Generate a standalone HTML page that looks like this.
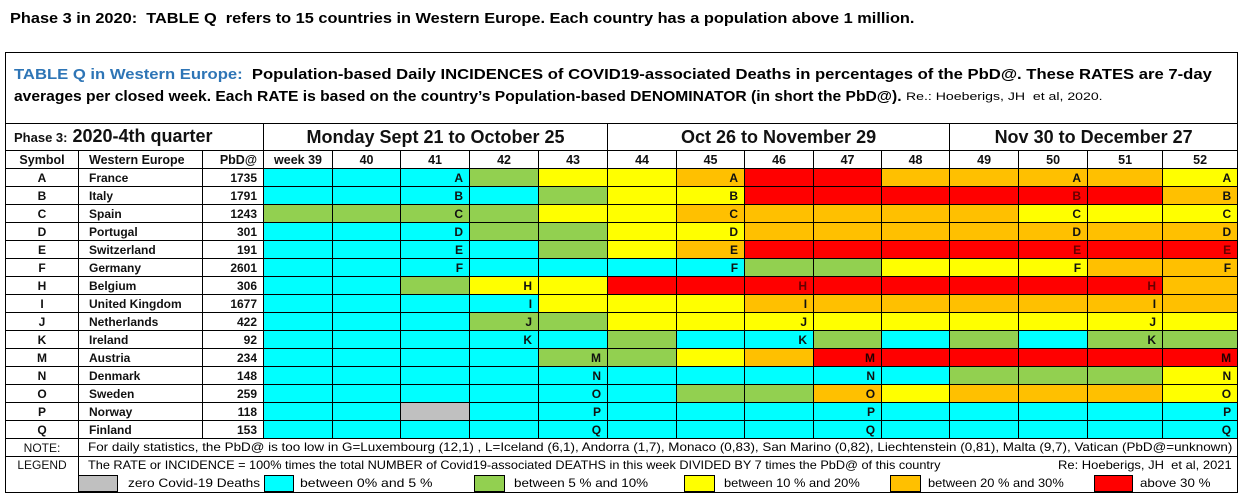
<!DOCTYPE html>
<html><head><meta charset="utf-8">
<style>
*{margin:0;padding:0;box-sizing:border-box}
body{width:1246px;height:499px;background:#fff;position:relative;overflow:hidden;font-family:"Liberation Sans",Arial,sans-serif;color:#000}
.abs{position:absolute;white-space:nowrap}
.fit{position:absolute;white-space:nowrap;overflow:visible}
.fit>span{display:inline-block;transform-origin:0 50%;white-space:nowrap}
#box{position:absolute;left:5px;top:52px;width:1233px;height:72px;border:1px solid #000;border-bottom:none}
table{position:absolute;left:5px;top:123px;border-collapse:collapse;table-layout:fixed;width:1233px}
td{border:1px solid #000;height:18px;font-size:12px;font-weight:bold;padding:0;line-height:16px;overflow:hidden;white-space:nowrap;text-align:right;padding-right:6px;color:#111}
tr.hd td{text-align:center;padding:0;font-size:12.5px}
tr.ph td{height:27px;font-size:18px;text-align:center;padding:0}
td.sym{text-align:center;padding:0}
td.cty{text-align:left;padding-left:10px}
td.pb{text-align:right;padding-right:6px}
.c{background:#00ffff}.g{background:#92d050}.y{background:#ffff00}.o{background:#ffc000}.r{background:#ff0000;color:#600}.s{background:#c0c0c0}
.sw{position:absolute;top:475px;height:17px;border:1px solid #000}
.lt{position:absolute;top:476px;font-size:12px;white-space:nowrap}
</style></head><body>
<div class="fit" style="left:10px;top:10px;width:905px;font-size:15px;font-weight:bold"><span>Phase 3 in 2020:&nbsp; TABLE Q&nbsp; refers to 15 countries in Western Europe. Each country has a population above 1 million.</span></div>
<div id="box"></div>
<div class="fit" style="left:14px;top:66px;width:1198px;font-size:15px;font-weight:bold"><span><span style="color:#2e75b6">TABLE Q in Western Europe:</span>&nbsp; Population-based Daily INCIDENCES of COVID19-associated Deaths in percentages of the PbD@. These RATES are 7-day</span></div>
<div class="fit" style="left:14px;top:88px;width:888px;font-size:15px;font-weight:bold"><span>averages per closed week. Each RATE is based on the country’s Population-based DENOMINATOR (in short the PbD@).</span></div>
<div class="fit" style="left:906px;top:91px;width:196px;font-size:11px"><span>Re.: Hoeberigs, JH&nbsp; et al, 2020.</span></div>
<table>
<colgroup><col style="width:73px"><col style="width:124px"><col style="width:61px"><col style="width:69px"><col style="width:68px"><col style="width:69px"><col style="width:69px"><col style="width:69px"><col style="width:69px"><col style="width:68px"><col style="width:69px"><col style="width:68px"><col style="width:68px"><col style="width:69px"><col style="width:69px"><col style="width:75px"><col style="width:75px"></colgroup>
<tr class="ph"><td colspan="3" style="text-align:left;padding-left:8px"><span style="font-size:13px">Phase 3:</span> 2020-4th quarter</td><td colspan="5">Monday Sept 21 to October 25</td><td colspan="5">Oct 26 to November 29</td><td colspan="4">Nov 30 to December 27</td></tr>
<tr class="hd"><td>Symbol</td><td style="text-align:left;padding-left:10px">Western Europe</td><td style="text-align:right;padding-right:6px">PbD@</td><td>week 39</td><td>40</td><td>41</td><td>42</td><td>43</td><td>44</td><td>45</td><td>46</td><td>47</td><td>48</td><td>49</td><td>50</td><td>51</td><td>52</td></tr>
<tr><td class="sym">A</td><td class="cty">France</td><td class="pb">1735</td><td class="c"></td><td class="c"></td><td class="c">A</td><td class="g"></td><td class="y"></td><td class="y"></td><td class="o">A</td><td class="r"></td><td class="r"></td><td class="o"></td><td class="o"></td><td class="o">A</td><td class="o"></td><td class="y">A</td></tr>
<tr><td class="sym">B</td><td class="cty">Italy</td><td class="pb">1791</td><td class="c"></td><td class="c"></td><td class="c">B</td><td class="c"></td><td class="g"></td><td class="y"></td><td class="y">B</td><td class="r"></td><td class="r"></td><td class="r"></td><td class="r"></td><td class="r">B</td><td class="r"></td><td class="o">B</td></tr>
<tr><td class="sym">C</td><td class="cty">Spain</td><td class="pb">1243</td><td class="g"></td><td class="g"></td><td class="g">C</td><td class="g"></td><td class="y"></td><td class="y"></td><td class="o">C</td><td class="o"></td><td class="o"></td><td class="o"></td><td class="o"></td><td class="y">C</td><td class="y"></td><td class="y">C</td></tr>
<tr><td class="sym">D</td><td class="cty">Portugal</td><td class="pb">301</td><td class="c"></td><td class="c"></td><td class="c">D</td><td class="g"></td><td class="g"></td><td class="y"></td><td class="y">D</td><td class="o"></td><td class="o"></td><td class="o"></td><td class="o"></td><td class="o">D</td><td class="o"></td><td class="o">D</td></tr>
<tr><td class="sym">E</td><td class="cty">Switzerland</td><td class="pb">191</td><td class="c"></td><td class="c"></td><td class="c">E</td><td class="c"></td><td class="g"></td><td class="y"></td><td class="o">E</td><td class="r"></td><td class="r"></td><td class="r"></td><td class="r"></td><td class="r">E</td><td class="r"></td><td class="r">E</td></tr>
<tr><td class="sym">F</td><td class="cty">Germany</td><td class="pb">2601</td><td class="c"></td><td class="c"></td><td class="c">F</td><td class="c"></td><td class="c"></td><td class="c"></td><td class="c">F</td><td class="g"></td><td class="g"></td><td class="y"></td><td class="y"></td><td class="y">F</td><td class="o"></td><td class="o">F</td></tr>
<tr><td class="sym">H</td><td class="cty">Belgium</td><td class="pb">306</td><td class="c"></td><td class="c"></td><td class="g"></td><td class="y">H</td><td class="y"></td><td class="r"></td><td class="r"></td><td class="r">H</td><td class="r"></td><td class="r"></td><td class="r"></td><td class="r"></td><td class="r">H</td><td class="o"></td></tr>
<tr><td class="sym">I</td><td class="cty">United Kingdom</td><td class="pb">1677</td><td class="c"></td><td class="c"></td><td class="c"></td><td class="c">I</td><td class="y"></td><td class="y"></td><td class="y"></td><td class="o">I</td><td class="o"></td><td class="o"></td><td class="o"></td><td class="o"></td><td class="o">I</td><td class="o"></td></tr>
<tr><td class="sym">J</td><td class="cty">Netherlands</td><td class="pb">422</td><td class="c"></td><td class="c"></td><td class="c"></td><td class="g">J</td><td class="g"></td><td class="y"></td><td class="y"></td><td class="y">J</td><td class="y"></td><td class="y"></td><td class="y"></td><td class="y"></td><td class="y">J</td><td class="y"></td></tr>
<tr><td class="sym">K</td><td class="cty">Ireland</td><td class="pb">92</td><td class="c"></td><td class="c"></td><td class="c"></td><td class="c">K</td><td class="c"></td><td class="g"></td><td class="c"></td><td class="c">K</td><td class="g"></td><td class="c"></td><td class="g"></td><td class="c"></td><td class="g">K</td><td class="g"></td></tr>
<tr><td class="sym">M</td><td class="cty">Austria</td><td class="pb">234</td><td class="c"></td><td class="c"></td><td class="c"></td><td class="c"></td><td class="g">M</td><td class="g"></td><td class="y"></td><td class="o"></td><td class="r" style="color:#200">M</td><td class="r"></td><td class="r"></td><td class="r"></td><td class="r"></td><td class="r" style="color:#200">M</td></tr>
<tr><td class="sym">N</td><td class="cty">Denmark</td><td class="pb">148</td><td class="c"></td><td class="c"></td><td class="c"></td><td class="c"></td><td class="c">N</td><td class="c"></td><td class="c"></td><td class="c"></td><td class="c">N</td><td class="c"></td><td class="g"></td><td class="g"></td><td class="g"></td><td class="y">N</td></tr>
<tr><td class="sym">O</td><td class="cty">Sweden</td><td class="pb">259</td><td class="c"></td><td class="c"></td><td class="c"></td><td class="c"></td><td class="c">O</td><td class="c"></td><td class="g"></td><td class="g"></td><td class="o">O</td><td class="y"></td><td class="o"></td><td class="o"></td><td class="o"></td><td class="y">O</td></tr>
<tr><td class="sym">P</td><td class="cty">Norway</td><td class="pb">118</td><td class="c"></td><td class="c"></td><td class="s"></td><td class="c"></td><td class="c">P</td><td class="c"></td><td class="c"></td><td class="c"></td><td class="c">P</td><td class="c"></td><td class="c"></td><td class="c"></td><td class="c"></td><td class="c">P</td></tr>
<tr><td class="sym">Q</td><td class="cty">Finland</td><td class="pb">153</td><td class="c"></td><td class="c"></td><td class="c"></td><td class="c"></td><td class="c">Q</td><td class="c"></td><td class="c"></td><td class="c"></td><td class="c">Q</td><td class="c"></td><td class="c"></td><td class="c"></td><td class="c"></td><td class="c">Q</td></tr>
<tr><td class="sym" style="font-weight:normal">NOTE:</td><td colspan="16" style="text-align:left"></td></tr>
<tr><td class="sym" rowspan="2" style="font-weight:normal;vertical-align:top">LEGEND</td><td colspan="16" style="border-bottom:none"></td></tr>
<tr><td colspan="16" style="border-top:none"></td></tr>
</table>
<div class="fit" style="left:88px;top:440px;width:1144px;font-size:12px"><span>For daily statistics, the PbD@ is too low in G=Luxembourg (12,1) , L=Iceland (6,1), Andorra (1,7), Monaco (0,83), San Marino (0,82), Liechtenstein (0,81), Malta (9,7), Vatican (PbD@=unknown)</span></div>
<div class="fit" style="left:88px;top:458px;width:852px;font-size:12px"><span>The RATE or INCIDENCE = 100% times the total NUMBER of Covid19-associated DEATHS in this week DIVIDED BY 7 times the PbD@ of this country</span></div>
<div class="fit" style="left:1058px;top:458px;width:174px;font-size:12px"><span>Re: Hoeberigs, JH&nbsp; et al, 2021</span></div>
<div class="sw s" style="left:78px;width:40px"></div>
<div class="fit" style="left:128px;top:476px;width:132px;font-size:12px"><span>zero Covid-19 Deaths</span></div>
<div class="sw c" style="left:264px;width:30px"></div>
<div class="fit" style="left:300px;top:476px;width:132px;font-size:12px"><span>between 0% and 5 %</span></div>
<div class="sw g" style="left:474px;width:31px"></div>
<div class="fit" style="left:514px;top:476px;width:134px;font-size:12px"><span>between 5 % and 10%</span></div>
<div class="sw y" style="left:684px;width:31px"></div>
<div class="fit" style="left:724px;top:476px;width:136px;font-size:12px"><span>between 10 % and 20%</span></div>
<div class="sw o" style="left:890px;width:31px"></div>
<div class="fit" style="left:928px;top:476px;width:136px;font-size:12px"><span>between 20 % and 30%</span></div>
<div class="sw r" style="left:1094px;width:39px"></div>
<div class="fit" style="left:1140px;top:476px;width:70px;font-size:12px"><span>above 30 %</span></div>
<script>
document.querySelectorAll('.fit').forEach(function(d){var s=d.firstElementChild;var w=parseFloat(d.style.width);var a=s.offsetWidth;if(a>0)s.style.transform='scaleX('+(w/a)+')';});
</script>
</body></html>
